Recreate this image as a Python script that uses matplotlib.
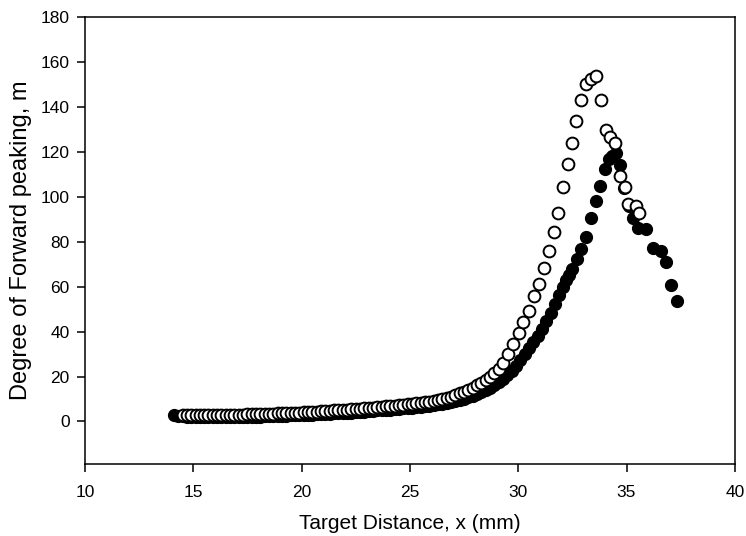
import matplotlib
matplotlib.use('Agg')
import matplotlib.pyplot as plt

plt.rcParams['font.family'] = ['Liberation Sans', 'DejaVu Sans']

# open circles
open_x = [14.5, 14.7, 14.9, 15.1, 15.3, 15.5, 15.7, 15.9, 16.1, 16.3, 16.5, 16.7, 16.9,
          17.1, 17.3, 17.5, 17.7, 17.9, 18.1, 18.3, 18.5, 18.7, 18.9, 19.1, 19.3, 19.5,
          19.7, 19.9, 20.1, 20.3, 20.5, 20.7, 20.9, 21.1, 21.3, 21.5, 21.7, 21.9, 22.1,
          22.3, 22.5, 22.7, 22.9, 23.1, 23.3, 23.5, 23.7, 23.9, 24.1, 24.3, 24.5, 24.7,
          24.9, 25.1, 25.3, 25.5, 25.7, 25.9, 26.1, 26.3, 26.5, 26.7, 26.9, 27.1, 27.3,
          27.5, 27.7, 27.9, 28.1, 28.3, 28.5, 28.7, 28.9, 29.1, 29.3, 29.53, 29.77, 30.04,
          30.23, 30.5, 30.72, 30.95, 31.2, 31.41, 31.64, 31.83, 32.07, 32.28, 32.49, 32.69,
          32.92, 33.15, 33.38, 33.6, 33.8, 34.03, 34.26, 34.49, 34.69, 34.92, 35.08, 35.45,
          35.56]
open_y = [3.0, 3.0, 3.0, 3.0, 3.0, 3.0, 3.0, 3.0, 3.0, 3.0, 3.0, 3.1, 3.1,
          3.1, 3.1, 3.2, 3.2, 3.3, 3.3, 3.4, 3.5, 3.5, 3.6, 3.7, 3.8, 3.9,
          4.0, 4.0, 4.1, 4.2, 4.3, 4.4, 4.5, 4.7, 4.8, 4.9, 5.0, 5.2, 5.3,
          5.4, 5.6, 5.7, 5.9, 6.0, 6.2, 6.4, 6.5, 6.7, 6.9, 7.1, 7.3, 7.5,
          7.7, 7.9, 8.1, 8.3, 8.6, 8.9, 9.2, 9.6, 10.0, 10.5, 11.1, 11.8, 12.5,
          13.3, 14.2, 15.1, 16.1, 17.2, 18.4, 19.9, 21.5, 23.5, 25.9, 30.1, 34.6, 39.4,
          44.2, 49.3, 56.0, 61.2, 68.3, 75.8, 84.2, 93.0, 104.5, 114.7, 124.0, 133.9,
          142.9, 150.3, 152.5, 153.8, 142.9, 129.9, 126.7, 124.0, 109.5, 104.5, 96.6, 95.9,
          93.0]

# filled circles
filled_x = [14.1, 14.3, 14.5, 14.7, 14.9, 15.1, 15.3, 15.5, 15.7, 15.9, 16.1, 16.3, 16.5,
            16.7, 16.9, 17.1, 17.3, 17.5, 17.7, 17.9, 18.1, 18.3, 18.5, 18.7, 18.9, 19.1,
            19.3, 19.5, 19.7, 19.9, 20.1, 20.3, 20.5, 20.7, 20.9, 21.1, 21.3, 21.5, 21.7,
            21.9, 22.1, 22.3, 22.5, 22.7, 22.9, 23.1, 23.3, 23.5, 23.7, 23.9, 24.1, 24.3,
            24.5, 24.7, 24.9, 25.1, 25.3, 25.5, 25.7, 25.9, 26.1, 26.3, 26.5, 26.7, 26.9,
            27.1, 27.3, 27.5, 27.7, 27.9, 28.1, 28.3, 28.5, 28.7, 28.9, 29.1, 29.3, 29.5,
            29.7, 29.9, 30.1, 30.3, 30.5, 30.7, 30.9, 31.1, 31.3, 31.5, 31.7, 31.9, 32.05,
            32.2, 32.35, 32.5, 32.7, 32.92, 33.15, 33.36, 33.58, 33.79, 34.0, 34.2, 34.32,
            34.5, 34.69, 34.9, 35.1, 35.3, 35.54, 35.92, 36.23, 36.61, 36.84, 37.07, 37.31]
filled_y = [3.0, 2.6, 2.4, 2.2, 2.1, 2.0, 2.0, 2.0, 2.0, 2.0, 2.0, 2.0, 2.0,
            2.0, 2.0, 2.0, 2.0, 2.1, 2.1, 2.2, 2.2, 2.3, 2.3, 2.4, 2.5, 2.5,
            2.6, 2.7, 2.8, 2.8, 2.9, 3.0, 3.1, 3.2, 3.3, 3.4, 3.5, 3.6, 3.7,
            3.8, 3.9, 4.0, 4.2, 4.3, 4.4, 4.6, 4.7, 4.9, 5.0, 5.2, 5.3, 5.5,
            5.7, 5.8, 6.0, 6.2, 6.4, 6.6, 6.8, 7.0, 7.3, 7.6, 7.9, 8.2, 8.6,
            9.0, 9.5, 10.1, 10.8, 11.5, 12.3, 13.2, 14.1, 15.1, 16.2, 17.5, 19.0, 20.7,
            22.7, 24.9, 27.4, 30.0, 32.6, 35.3, 38.2, 41.3, 44.8, 48.5, 52.5, 56.5, 60.0,
            62.8, 65.2, 67.8, 72.2, 76.7, 82.3, 90.7, 98.1, 105.0, 112.5, 117.0, 118.3,
            119.5, 114.4, 104.0, 96.0, 90.7, 86.3, 85.5, 77.4, 75.9, 70.8, 60.7, 53.8]

x_ticks = [10, 15, 20, 25, 30, 35, 40]
y_ticks = [0, 20, 40, 60, 80, 100, 120, 140, 160, 180]

fig = plt.figure(figsize=(7.46, 5.36), dpi=100)
ax = fig.add_axes([0.114, 0.134, 0.871, 0.834])

ax.plot(filled_x, filled_y, 'o', color='black', markersize=8.5, markeredgewidth=1.0)
ax.plot(open_x, open_y, 'o', markerfacecolor='white', markeredgecolor='black',
        markersize=8.5, markeredgewidth=1.4)

ax.set_xlim(10, 40)
ax.set_ylim(-19, 180)
ax.set_xticks(x_ticks)
ax.set_yticks(y_ticks)
ax.tick_params(direction='out', length=6, width=1.1, labelsize=12.5)
ax.tick_params(axis='x', pad=9)
ax.tick_params(axis='y', pad=5)
for s in ax.spines.values():
    s.set_linewidth(1.1)

ax.set_xlabel('Target Distance, x (mm)', fontsize=15, labelpad=10)
ax.set_ylabel('Degree of Forward peaking, m', fontsize=17, labelpad=6)

plt.savefig('out.png', dpi=100)
